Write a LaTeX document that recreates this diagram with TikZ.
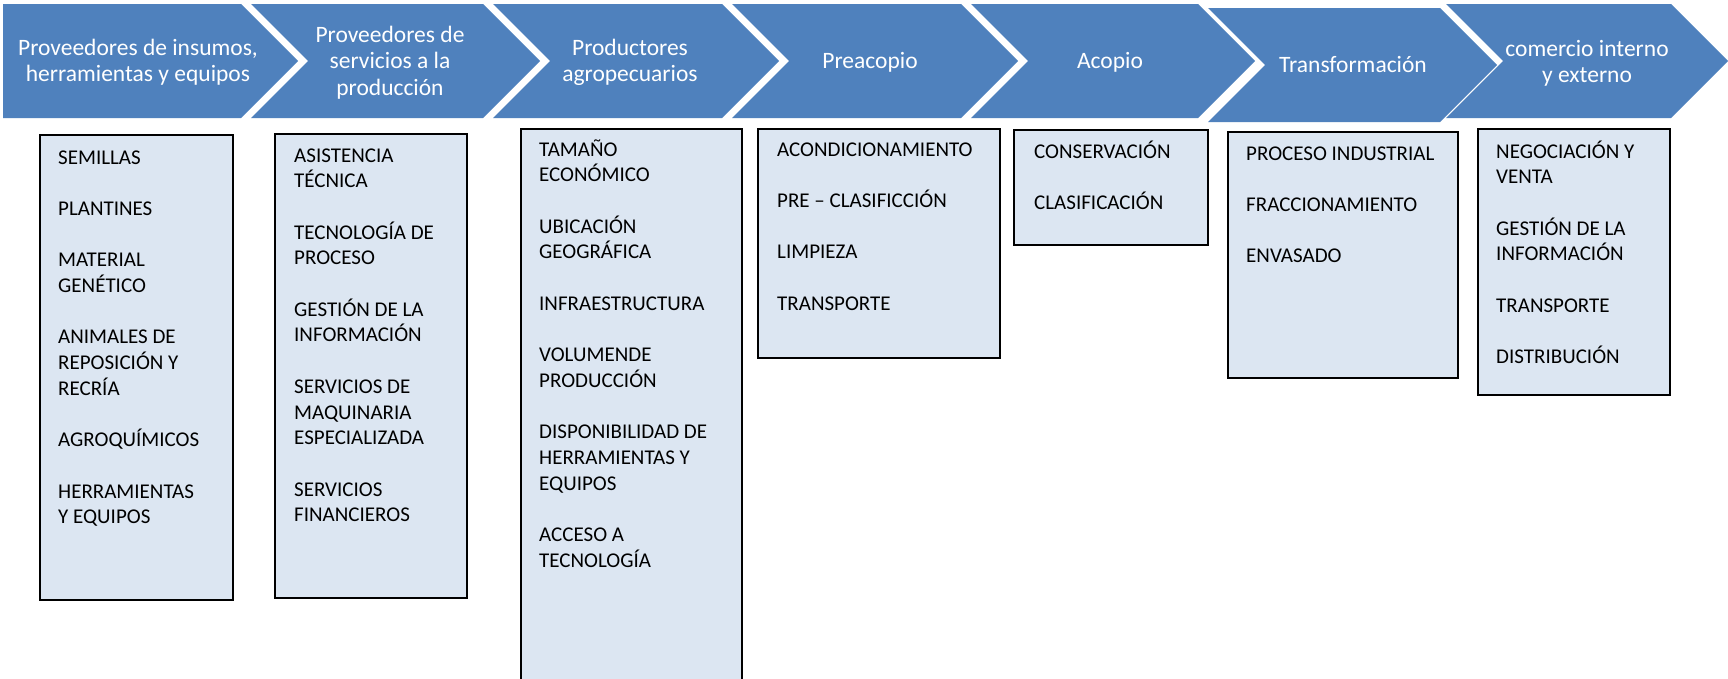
\documentclass[tikz,border=0pt]{standalone}
\usepackage{fontspec}
\setmainfont{Carlito}
\definecolor{chevblue}{HTML}{4F81BD}
\definecolor{boxfill}{HTML}{DCE6F2}
\newcommand{\hdrtext}[1]{\parbox[t]{300pt}{\centering\fontsize{23.5}{26.7}\selectfont #1}}
\newcommand{\itemtext}[1]{\parbox[t]{320pt}{\raggedright\fontsize{21}{25.7}\selectfont #1}}
\newcommand{\gapline}{\\[25.7pt]}
\begin{document}
\begin{tikzpicture}[x=1pt,y=-1pt,
  chevron/.style={fill=chevblue, draw=none},
  itembox/.style={fill=boxfill, draw=black, line width=1.6pt},
  head/.style={anchor=base, inner sep=0pt, text=white},
  items/.style={anchor=base west, inner sep=0pt, text=black}]
\useasboundingbox[fill=white] (0,0) rectangle (1728,678);

% chevrons
\fill[chevron] (3,4) -- (241,4) -- (298,61) -- (241,118) -- (3,118) -- cycle;
\fill[chevron] (251,4) -- (483,4) -- (540,61) -- (483,118) -- (251,118) -- (308,61) -- cycle;
\fill[chevron] (493,4) -- (722,4) -- (779,61) -- (722,118) -- (493,118) -- (550,61) -- cycle;
\fill[chevron] (732,4) -- (961,4) -- (1018,61) -- (961,118) -- (732,118) -- (789,61) -- cycle;
\fill[chevron] (971,4) -- (1198,4) -- (1255,61) -- (1198,118) -- (971,118) -- (1028,61) -- cycle;
\fill[chevron] (1208,8) -- (1440,8) -- (1497,65) -- (1440,122) -- (1208,122) -- (1265,65) -- cycle;
\fill[chevron] (1446,4) -- (1671,4) -- (1728,61) -- (1671,118) -- (1446,118) -- (1503,61) -- cycle;

% chevron labels
\node[head] (h1) at (138,55) {\hdrtext{Proveedores de insumos,\\herramientas y equipos}};
\node[head] (h2) at (390,42) {\hdrtext{Proveedores de\\servicios a la\\producción}};
\node[head] (h3) at (630,55) {\hdrtext{Productores\\agropecuarios}};
\node[head] (h4) at (870,68.5) {\hdrtext{Preacopio}};
\node[head] (h5) at (1110,68.5) {\hdrtext{Acopio}};
\node[head] (h6) at (1353,72.5) {\hdrtext{Transformación}};
\node[head] (h7) at (1587,56) {\hdrtext{comercio interno\\y externo}};

% boxes
\node[itembox, anchor=north west, minimum width=193pt, minimum height=465pt] (b1) at (39,134) {};
\node[itembox, anchor=north west, minimum width=192pt, minimum height=464pt] (b2) at (274,133) {};
\begin{scope}
\clip (0,0) rectangle (1728,678);
\node[itembox, anchor=north west, minimum width=221pt, minimum height=580pt] (b3) at (520,128) {};
\end{scope}
\node[itembox, anchor=north west, minimum width=242pt, minimum height=229pt] (b4) at (757,128) {};
\node[itembox, anchor=north west, minimum width=194pt, minimum height=115pt] (b5) at (1013,129) {};
\node[itembox, anchor=north west, minimum width=230pt, minimum height=246pt] (b6) at (1227,131) {};
\node[itembox, anchor=north west, minimum width=192pt, minimum height=266pt] (b7) at (1477,128) {};

% box texts
\node[items] (t1) at (58,164) {\itemtext{SEMILLAS\gapline PLANTINES\gapline MATERIAL\\GENÉTICO\gapline ANIMALES DE\\REPOSICIÓN Y\\RECRÍA\gapline AGROQUÍMICOS\gapline HERRAMIENTAS\\Y EQUIPOS}};
\node[items] (t2) at (294,162) {\itemtext{ASISTENCIA\\TÉCNICA\gapline TECNOLOGÍA DE\\PROCESO\gapline GESTIÓN DE LA\\INFORMACIÓN\gapline SERVICIOS DE\\MAQUINARIA\\ESPECIALIZADA\gapline SERVICIOS\\FINANCIEROS}};
\node[items] (t3) at (539,156) {\itemtext{TAMAÑO\\ECONÓMICO\gapline UBICACIÓN\\GEOGRÁFICA\gapline INFRAESTRUCTURA\gapline VOLUMENDE\\PRODUCCIÓN\gapline DISPONIBILIDAD DE\\HERRAMIENTAS Y\\EQUIPOS\gapline ACCESO A\\TECNOLOGÍA}};
\node[items] (t4) at (777,156) {\itemtext{ACONDICIONAMIENTO\gapline PRE – CLASIFICCIÓN\gapline LIMPIEZA\gapline TRANSPORTE}};
\node[items] (t5) at (1034,158) {\itemtext{CONSERVACIÓN\gapline CLASIFICACIÓN}};
\node[items] (t6) at (1246,160) {\itemtext{PROCESO INDUSTRIAL\gapline FRACCIONAMIENTO\gapline ENVASADO}};
\node[items] (t7) at (1496,158) {\itemtext{NEGOCIACIÓN Y\\VENTA\gapline GESTIÓN DE LA\\INFORMACIÓN\gapline TRANSPORTE\gapline DISTRIBUCIÓN}};
\end{tikzpicture}
\end{document}
